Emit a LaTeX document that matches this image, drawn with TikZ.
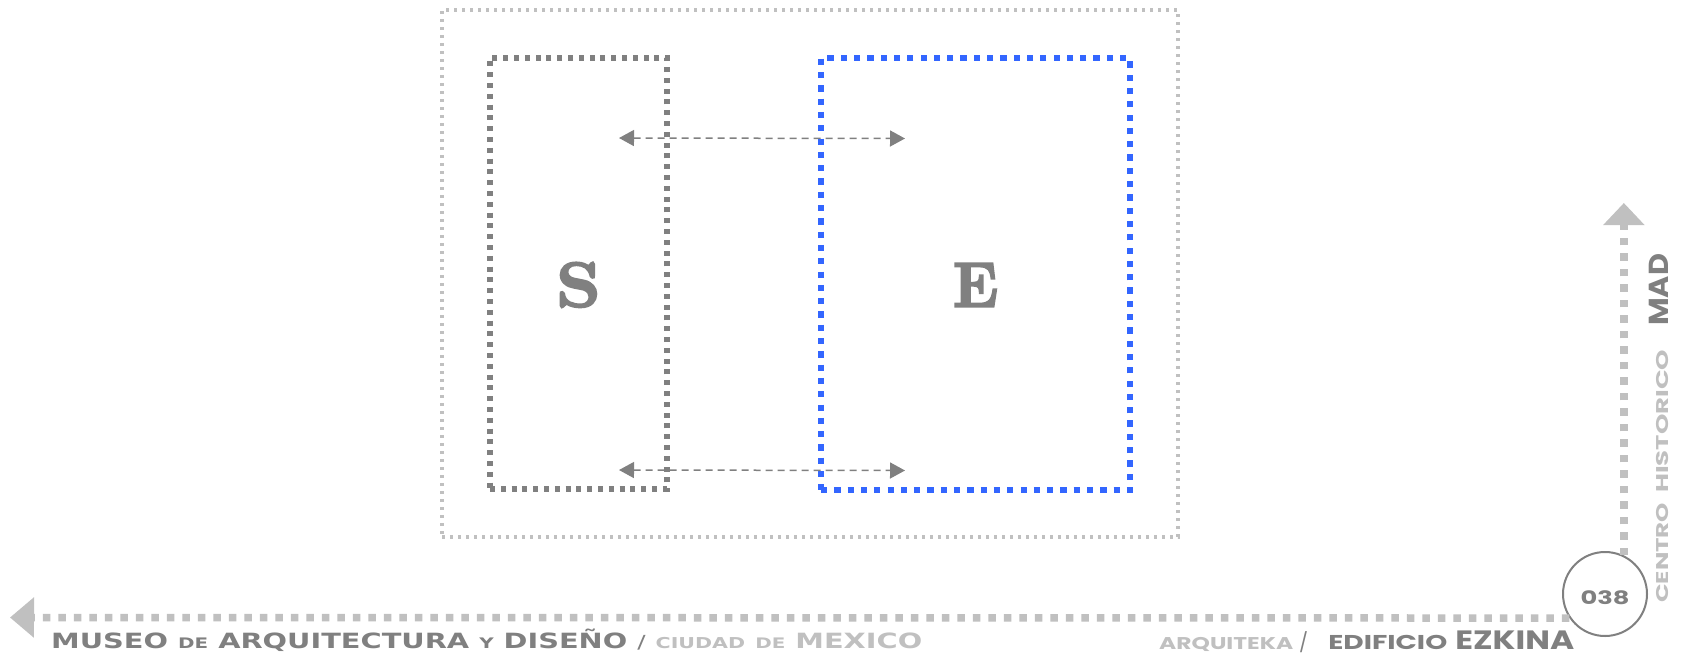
\documentclass[tikz,border=0pt]{standalone}
\usepackage{fontspec}
\usepackage{graphicx}
\usetikzlibrary{arrows.meta}
\newfontfamily\copfont{DejaVu Sans}
\newfontfamily\popfont{Poppins}
\newfontfamily\heavyserif{Latin Modern Roman}[BoldFeatures={FakeBold=3.5}]
\definecolor{dgray}{HTML}{808080}
\definecolor{lgray}{HTML}{C0C0C0}
\definecolor{eblue}{HTML}{3366FF}
\newcommand{\fsz}[1]{\fontsize{#1}{#1}\selectfont}
\begin{document}
\begin{tikzpicture}[x=1pt,y=-1pt,
  outerbox/.style={draw=lgray, line width=3.5pt, dash pattern=on 3.4pt off 4.6pt, inner sep=0pt},
  sbox/.style={draw=dgray, line width=5.2pt, dash pattern=on 5pt off 5.8pt, inner sep=0pt},
  ebox/.style={draw=eblue, line width=6.5pt, dash pattern=on 6.2pt off 7.1pt, inner sep=0pt},
  link/.style={draw=dgray, line width=1.5pt, dash pattern=on 7pt off 5pt,
    {Triangle[length=15pt,width=16pt]}-{Triangle[length=15pt,width=16pt]}},
  thickdots/.style={draw=lgray, line width=7.5pt, dash pattern=on 7.5pt off 8pt},
  letter/.style={font=\heavyserif\bfseries\fsz{63}, text=dgray, inner sep=0pt, anchor=base},
  txt/.style={inner sep=0pt, anchor=base west}]
\useasboundingbox (0,0) rectangle (1687,657);
\fill[white] (0,0) rectangle (1687,657);

% frames
\node[outerbox, minimum width=736pt, minimum height=527pt] (outer) at (810,273.5) {};
\node[sbox, minimum width=177pt, minimum height=431pt] (sframe) at (578.5,273.5) {};
\node[ebox, minimum width=309pt, minimum height=432pt] (eframe) at (975.5,274) {};

% letters
\node[letter] (s) at (578.5,306.5) {\resizebox{44pt}{\height}{S}};
\node[letter] (e) at (975.5,306.5) {\resizebox{45pt}{\height}{E}};

% two-way links
\coordinate (a1l) at (619,138);
\coordinate (a1r) at (905,138.5);
\coordinate (a2l) at (619,470);
\coordinate (a2r) at (905,470.5);
\draw[link] (a1l) -- (a1r);
\draw[link] (a2l) -- (a2r);

% page number circle
\node[circle, draw=dgray, line width=2pt, minimum size=84pt, inner sep=0pt] (circ) at (1605,594) {};
\node[inner sep=0pt, anchor=base, text=dgray, font=\popfont\bfseries\fsz{18.5}] (num) at (1605,604.5)
  {\resizebox{49pt}{\height}{038}};

% axes
\coordinate (btip) at (10,617.5);
\coordinate (vtip) at (1624,203);
\draw[thickdots, -{Triangle[length=24pt,width=39pt]}] (circ.214.5) -- (btip);
\draw[thickdots, -{Triangle[length=22pt,width=40pt]}] (circ.64) -- (circ.64 |- vtip);

% bottom left title
\node[txt] (title) at (51,648.5) {\resizebox{871pt}{\height}{\copfont\bfseries\fsz{21}%
  \color{dgray}MUSEO {\fsz{14.5}DE} ARQUITECTURA {\fsz{14.5}Y} DISEÑO {\mdseries\fsz{18}/} %
  \color{lgray}{\fsz{15}CIUDAD} {\fsz{14.5}DE} MEXICO}};

% bottom right title
\node[txt] (author) at (1159,649) {\popfont\bfseries
  \resizebox{134pt}{\height}{\color{lgray}\fsz{17}ARQUITEKA}\hspace{6pt}%
  {\mdseries\color{dgray}\fsz{19}/}\hspace{20pt}%
  \resizebox{119pt}{\height}{\color{dgray}\fsz{20}EDIFICIO}\hspace{8pt}%
  \resizebox{119pt}{\height}{\color{dgray}\fsz{26.5}EZKINA}};

% vertical title
\node[txt, rotate=90] (vtitle) at (1668,603) {\popfont\bfseries
  \resizebox{100pt}{\height}{\color{lgray}\fsz{17}CENTRO}\hspace{10pt}%
  \resizebox{143pt}{\height}{\color{lgray}\fsz{17}HISTORICO}\hspace{24pt}%
  \resizebox{72pt}{\height}{\color{dgray}\fsz{27.5}MAD}};
\end{tikzpicture}
\end{document}
